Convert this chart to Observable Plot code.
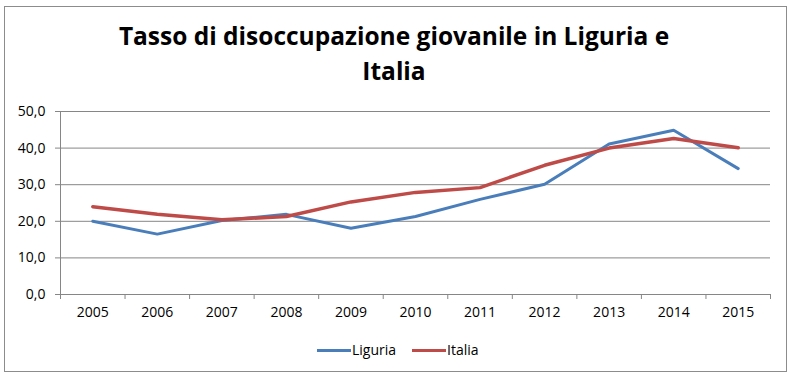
<!DOCTYPE html>
<html>
<head>
<meta charset="utf-8">
<script src="https://cdn.jsdelivr.net/npm/d3@7"></script>
<script src="https://cdn.jsdelivr.net/npm/@observablehq/plot@0.6"></script>
<style>
  body { margin: 0; background: #fff; }
  #wrap { position: relative; width: 794px; height: 379px; font-family: "Open Sans", sans-serif; overflow: hidden; }
  #frame { position: absolute; left: 4px; top: 6px; width: 783px; height: 366px; border: 1px solid #8c8c8c; box-sizing: border-box; }
  #title { position: absolute; left: 0; width: 788px; top: 18px; text-align: center; font-weight: bold; font-size: 24.5px; line-height: 35px; color: #000; }
  #chart { position: absolute; left: 0; top: 95px; }
  #legend { position: absolute; top: 340px; left: 0; width: 794px; height: 20px; font-size: 14px; }
  .item { position: absolute; top: 0; height: 20px; line-height: 20px; }
  .sw { position: absolute; top: 9px; width: 34px; height: 3px; }
</style>
</head>
<body>
<div id="wrap">
  <div id="frame"></div>
  <div id="title">Tasso di disoccupazione giovanile in Liguria e<br>Italia</div>
  <div id="chart"></div>
  <div id="legend"></div>
</div>
<script>
const years = [2005, 2006, 2007, 2008, 2009, 2010, 2011, 2012, 2013, 2014, 2015];
const liguria = [20.0, 16.5, 20.2, 21.9, 18.1, 21.3, 26.0, 30.1, 41.1, 44.9, 34.4];
const italia  = [24.0, 21.9, 20.4, 21.3, 25.3, 27.9, 29.2, 35.3, 40.0, 42.6, 40.1];
const seriesNames = ["Liguria", "Italia"];
const seriesColors = ["#4A7EBB", "#BE4B48"];
const yTicks = [0, 10, 20, 30, 40, 50];

const rows = [];
years.forEach((yr, i) => {
  rows.push({year: yr, value: liguria[i], series: "Liguria"});
  rows.push({year: yr, value: italia[i], series: "Italia"});
});
const boundaries = years.map(y => y - 0.5).concat([years[years.length - 1] + 0.5]);
const grey = "#868686";
const fmt = d => d.toFixed(1).replace(".", ",");

const chart = Plot.plot({
  width: 794,
  height: 240,
  marginLeft: 60,
  marginRight: 24,
  marginTop: 16,
  marginBottom: 41,
  style: { fontFamily: "'Open Sans', sans-serif", fontSize: "14px", color: "#000", background: "transparent" },
  x: { type: "linear", domain: [years[0] - 0.5, years[years.length - 1] + 0.5] },
  y: { domain: [0, 50] },
  color: { domain: seriesNames, range: seriesColors },
  marks: [
    Plot.gridY(yTicks, { stroke: grey, strokeOpacity: 1, strokeWidth: 1 }),
    Plot.axisY(yTicks, { tickFormat: fmt, tickSize: 5, tickPadding: 10, stroke: grey, label: null, fill: "#000" }),
    Plot.ruleX([years[0] - 0.5], { stroke: grey }),
    Plot.ruleY([0], { stroke: grey }),
    Plot.axisX(boundaries, { tickSize: 5, tickFormat: () => "", stroke: grey, label: null }),
    Plot.axisX(years, { tickSize: 0, tickPadding: 13, tickFormat: d => String(d), label: null, fill: "#000" }),
    Plot.lineY(rows.filter(d => d.series === "Liguria"), { x: "year", y: "value", stroke: "series", strokeWidth: 3 }),
    Plot.lineY(rows.filter(d => d.series === "Italia"), { x: "year", y: "value", stroke: "series", strokeWidth: 3.5 })
  ]
});
document.getElementById("chart").appendChild(chart);

const legend = document.getElementById("legend");
const legendX = [317, 412];
seriesNames.forEach((name, i) => {
  const sw = document.createElement("div");
  sw.className = "sw";
  sw.style.left = legendX[i] + "px";
  sw.style.background = seriesColors[i];
  legend.appendChild(sw);
  const t = document.createElement("div");
  t.className = "item";
  t.style.left = (legendX[i] + 35) + "px";
  t.textContent = name;
  legend.appendChild(t);
});
</script>
</body>
</html>
